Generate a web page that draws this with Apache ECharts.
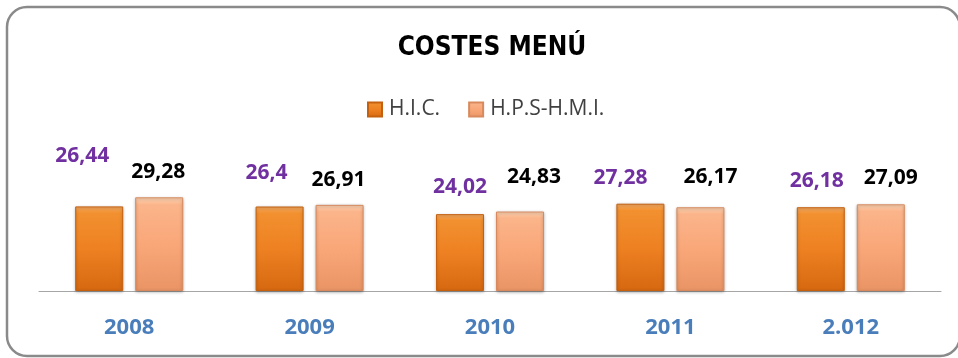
<!DOCTYPE html>
<html>
<head>
<meta charset="utf-8">
<title>COSTES MENÚ</title>
<script src="https://cdn.jsdelivr.net/npm/echarts@6/dist/echarts.min.js"></script>
<style>
  html, body { margin: 0; padding: 0; background: #ffffff; }
  #chart { width: 958px; height: 358px; }
</style>
</head>
<body>
<div id="chart"></div>
<script>
// Years on the category axis
var years = ['2008', '2009', '2010', '2011', '2.012'];
// Menu cost per series
var hicValues = [26.44, 26.4, 24.02, 27.28, 26.18];
var hpsValues = [29.28, 26.91, 24.83, 26.17, 27.09];
var seriesNames = ['H.I.C.', 'H.P.S-H.M.I.'];

// Hand-placed value labels: [dx, height of label centre above bar top]
var hicLabelNudge = [[-17, 50], [-13, 34], [0, 27], [-20, 26], [-4, 26]];
var hpsLabelNudge = [[-1, 25], [-1, 25], [14, 35], [10, 30], [10, 26]];

function fmt(v) {
  return String(v).replace('.', ',');
}

function buildData(values, nudges) {
  return values.map(function (v, i) {
    return {
      value: v,
      label: { offset: [nudges[i][0], -nudges[i][1]] }
    };
  });
}

function vGrad(stops) {
  return new echarts.graphic.LinearGradient(0, 0, 0, 1, stops.map(function (s) {
    return { offset: s[0], color: s[1] };
  }));
}

var hicFill = vGrad([[0, '#f7ad66'], [0.08, '#f2902f'], [0.5, '#ee8122'], [1, '#d66810']]);
var hpsFill = vGrad([[0, '#fdd6b6'], [0.08, '#fbb48a'], [0.5, '#f9a779'], [1, '#ea9465']]);

var labelFont = {
  show: true,
  position: 'top',
  distance: 0,
  verticalAlign: 'middle',
  fontFamily: '"Open Sans", sans-serif',
  fontWeight: 'bold',
  fontSize: 21,
  formatter: function (p) { return fmt(p.value); }
};

var chart = echarts.init(document.getElementById('chart'), null, { renderer: 'canvas' });

chart.setOption({
  backgroundColor: '#ffffff',
  animation: false,
  graphic: [{
    type: 'rect',
    z: -10,
    shape: { x: 7, y: 7, width: 953, height: 349, r: 20 },
    style: { fill: 'none', stroke: '#8a8a8a', lineWidth: 2.5 }
  }],
  title: {
    text: 'COSTES MENÚ',
    left: 487,
    textAlign: 'center',
    top: 30,
    textStyle: {
      fontFamily: '"DejaVu Sans Condensed", sans-serif',
      fontWeight: 'bold',
      fontSize: 26,
      color: '#000000'
    }
  },
  legend: {
    data: seriesNames,
    left: 362,
    top: 94,
    itemWidth: 14,
    itemHeight: 14,
    itemGap: 28,
    icon: 'rect',
    textStyle: {
      fontFamily: '"Open Sans", sans-serif',
      fontSize: 21,
      color: '#404040',
      padding: [0, 0, 0, 2]
    }
  },
  grid: {
    left: 39,
    right: 17,
    top: 163,
    bottom: 67
  },
  xAxis: {
    type: 'category',
    data: years,
    axisLine: { show: true, lineStyle: { color: '#a6a6a6', width: 1 } },
    axisTick: { show: false },
    axisLabel: {
      margin: 26,
      fontFamily: '"Open Sans", sans-serif',
      fontWeight: 'bold',
      fontSize: 22,
      color: '#4a7ebb'
    }
  },
  yAxis: {
    type: 'value',
    min: 0,
    max: 40,
    show: false,
    splitLine: { show: false }
  },
  series: [{
    name: seriesNames[0],
    type: 'bar',
    barWidth: 48,
    barGap: '25%',
    data: buildData(hicValues, hicLabelNudge),
    itemStyle: {
      color: hicFill,
      borderColor: '#c4600e',
      borderWidth: 1,
      shadowBlur: 3,
      shadowColor: 'rgba(0,0,0,0.3)',
      shadowOffsetY: 1
    },
    label: Object.assign({}, labelFont, { color: '#7030a0' })
  }, {
    name: seriesNames[1],
    type: 'bar',
    barWidth: 48,
    barGap: '25%',
    data: buildData(hpsValues, hpsLabelNudge),
    itemStyle: {
      color: hpsFill,
      borderColor: '#d88a5e',
      borderWidth: 1,
      shadowBlur: 3,
      shadowColor: 'rgba(0,0,0,0.3)',
      shadowOffsetY: 1
    },
    label: Object.assign({}, labelFont, { color: '#000000' })
  }]
});
</script>
</body>
</html>
